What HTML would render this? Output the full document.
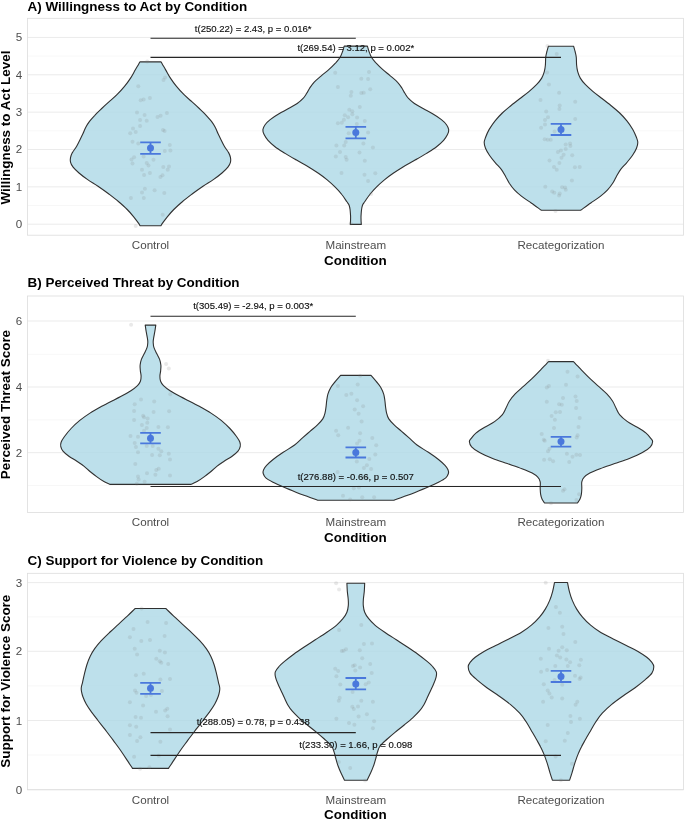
<!DOCTYPE html>
<html><head><meta charset="utf-8"><title>Violin plots by condition</title>
<style>html,body{margin:0;padding:0;background:#fff;overflow:hidden}svg{display:block;will-change:transform}text{font-family:"Liberation Sans",sans-serif}</style></head>
<body>
<svg width="685" height="820" viewBox="0 0 685 820">
<rect width="685" height="820" fill="#fff"/>
<g>
<line x1="27.5" x2="683.4" y1="56.10" y2="56.10" stroke="#f1f1f1" stroke-width="0.6"/>
<line x1="27.5" x2="683.4" y1="93.50" y2="93.50" stroke="#f1f1f1" stroke-width="0.6"/>
<line x1="27.5" x2="683.4" y1="130.80" y2="130.80" stroke="#f1f1f1" stroke-width="0.6"/>
<line x1="27.5" x2="683.4" y1="168.20" y2="168.20" stroke="#f1f1f1" stroke-width="0.6"/>
<line x1="27.5" x2="683.4" y1="205.50" y2="205.50" stroke="#f1f1f1" stroke-width="0.6"/>
<line x1="27.5" x2="683.4" y1="37.45" y2="37.45" stroke="#e9e9e9" stroke-width="0.9"/>
<line x1="27.5" x2="683.4" y1="74.80" y2="74.80" stroke="#e9e9e9" stroke-width="0.9"/>
<line x1="27.5" x2="683.4" y1="112.15" y2="112.15" stroke="#e9e9e9" stroke-width="0.9"/>
<line x1="27.5" x2="683.4" y1="149.50" y2="149.50" stroke="#e9e9e9" stroke-width="0.9"/>
<line x1="27.5" x2="683.4" y1="186.85" y2="186.85" stroke="#e9e9e9" stroke-width="0.9"/>
<line x1="27.5" x2="683.4" y1="224.20" y2="224.20" stroke="#e9e9e9" stroke-width="0.9"/>
<path d="M139.9 61.9C139.2 63.2 137.1 66.8 135.5 69.6C133.9 72.3 132.2 75.6 130.4 78.4C128.6 81.2 126.7 83.7 124.5 86.4C122.3 89.1 119.8 91.9 117.2 94.4C114.7 97.0 111.9 99.3 109.2 101.7C106.5 104.1 103.6 106.7 101.2 109.0C98.8 111.3 96.5 113.5 94.6 115.6C92.6 117.7 91.0 119.5 89.5 121.4C88.0 123.4 86.9 125.2 85.8 127.3C84.7 129.4 83.9 131.7 82.9 133.8C81.9 135.9 81.0 137.7 80.0 139.7C79.0 141.7 78.1 143.8 76.8 146.0C75.5 148.2 73.5 150.7 72.4 152.6C71.4 154.5 70.8 156.1 70.5 157.7C70.2 159.3 70.1 160.5 70.5 162.1C70.9 163.7 71.7 165.4 73.1 167.2C74.5 169.0 76.6 170.9 79.0 173.0C81.4 175.1 84.5 177.4 87.7 179.6C90.9 181.8 94.6 183.9 98.0 186.2C101.4 188.5 104.8 190.9 108.2 193.5C111.6 196.1 115.2 198.8 118.4 201.5C121.6 204.2 124.7 206.9 127.2 209.5C129.8 212.1 131.9 214.6 133.7 216.8C135.5 219.0 137.0 221.2 138.1 222.7C139.2 224.2 139.8 225.3 140.1 225.8L160.9 225.8C161.2 225.3 161.8 224.2 162.9 222.7C164.0 221.2 165.5 219.0 167.3 216.8C169.1 214.6 171.2 212.1 173.8 209.5C176.4 206.9 179.4 204.2 182.6 201.5C185.8 198.8 189.4 196.1 192.8 193.5C196.2 190.9 199.6 188.5 203.0 186.2C206.4 183.9 210.1 181.8 213.3 179.6C216.5 177.4 219.6 175.1 222.0 173.0C224.4 170.9 226.5 169.0 227.9 167.2C229.3 165.4 230.1 163.7 230.5 162.1C230.9 160.5 230.8 159.3 230.5 157.7C230.2 156.1 229.7 154.5 228.6 152.6C227.5 150.7 225.5 148.2 224.2 146.0C222.9 143.8 222.0 141.7 221.0 139.7C220.0 137.7 219.1 135.9 218.1 133.8C217.1 131.7 216.3 129.4 215.2 127.3C214.1 125.2 213.0 123.4 211.5 121.4C210.0 119.5 208.3 117.7 206.4 115.6C204.5 113.5 202.2 111.3 199.8 109.0C197.4 106.7 194.5 104.1 191.8 101.7C189.1 99.3 186.4 97.0 183.8 94.4C181.2 91.9 178.7 89.1 176.5 86.4C174.3 83.7 172.4 81.2 170.6 78.4C168.8 75.6 167.1 72.3 165.5 69.6C163.9 66.8 161.8 63.2 161.1 61.9Z" fill="#add8e6" fill-opacity="0.8" stroke="#303030" stroke-width="1.1" stroke-linejoin="round"/>
<path d="M344.2 46.1C343.9 47.0 343.2 49.8 342.5 51.7C341.8 53.6 341.1 55.7 340.0 57.5C338.9 59.3 337.7 60.6 335.9 62.6C334.1 64.5 331.7 67.0 329.3 69.2C326.9 71.4 323.9 73.6 321.3 75.8C318.8 78.0 315.9 80.2 314.0 82.3C312.1 84.4 310.8 86.4 309.6 88.2C308.4 90.0 307.8 91.6 306.7 93.3C305.6 95.0 304.7 96.7 303.1 98.4C301.5 100.1 299.6 101.8 297.2 103.5C294.8 105.2 291.5 106.9 288.5 108.6C285.5 110.3 282.1 111.9 279.0 113.7C275.9 115.5 272.5 117.8 270.2 119.6C267.9 121.4 266.3 123.0 265.1 124.7C263.9 126.4 263.1 127.8 262.9 129.5C262.7 131.2 263.2 132.8 264.1 134.6C265.0 136.4 266.1 138.3 268.0 140.4C269.9 142.5 272.4 144.8 275.3 147.0C278.2 149.2 282.0 151.4 285.5 153.6C289.0 155.8 292.7 157.9 296.5 160.1C300.3 162.3 304.5 164.5 308.2 166.7C311.9 168.9 315.2 171.1 318.4 173.3C321.6 175.5 324.4 177.6 327.2 179.9C330.0 182.2 332.8 184.8 335.2 187.2C337.6 189.6 339.9 192.1 341.8 194.5C343.8 196.9 345.7 200.1 346.9 201.8C348.1 203.5 348.3 203.6 348.8 204.6C349.3 205.6 349.6 206.8 349.8 208.0C350.1 209.2 350.2 210.4 350.3 212.0C350.4 213.6 350.6 215.3 350.6 217.4C350.6 219.5 350.4 223.2 350.3 224.4L361.3 224.4C361.2 223.2 361.0 219.5 361.0 217.4C361.0 215.3 361.2 213.6 361.3 212.0C361.4 210.4 361.6 209.2 361.8 208.0C362.1 206.8 362.3 205.6 362.8 204.6C363.3 203.6 363.5 203.5 364.7 201.8C365.9 200.1 367.9 196.9 369.8 194.5C371.8 192.1 374.0 189.6 376.4 187.2C378.8 184.8 381.6 182.2 384.4 179.9C387.2 177.6 390.0 175.5 393.2 173.3C396.4 171.1 399.8 168.9 403.4 166.7C407.1 164.5 411.3 162.3 415.1 160.1C418.9 157.9 422.6 155.8 426.1 153.6C429.6 151.4 433.4 149.2 436.3 147.0C439.2 144.8 441.7 142.5 443.6 140.4C445.5 138.3 446.6 136.4 447.5 134.6C448.4 132.8 448.9 131.2 448.7 129.5C448.5 127.8 447.7 126.4 446.5 124.7C445.3 123.0 443.7 121.4 441.4 119.6C439.1 117.8 435.7 115.5 432.6 113.7C429.6 111.9 426.1 110.3 423.1 108.6C420.1 106.9 416.8 105.2 414.4 103.5C412.0 101.8 410.1 100.1 408.5 98.4C406.9 96.7 406.0 95.0 404.9 93.3C403.8 91.6 403.2 90.0 402.0 88.2C400.8 86.4 399.6 84.4 397.6 82.3C395.7 80.2 392.9 78.0 390.3 75.8C387.8 73.6 384.7 71.4 382.3 69.2C379.9 67.0 377.5 64.5 375.7 62.6C373.9 60.6 372.7 59.3 371.6 57.5C370.5 55.7 369.8 53.6 369.1 51.7C368.4 49.8 367.7 47.0 367.4 46.1Z" fill="#add8e6" fill-opacity="0.8" stroke="#303030" stroke-width="1.1" stroke-linejoin="round"/>
<path d="M548.4 46.2C548.1 47.2 547.2 50.1 546.8 52.0C546.3 53.9 545.9 55.3 545.7 57.5C545.5 59.7 545.6 62.6 545.4 65.0C545.2 67.3 544.9 69.4 544.3 71.6C543.7 73.8 543.0 75.9 541.7 78.1C540.4 80.3 538.6 82.5 536.5 84.7C534.4 86.9 532.0 89.0 529.2 91.3C526.5 93.6 523.1 96.1 520.0 98.5C516.9 100.9 513.8 103.3 510.8 105.7C507.9 108.1 504.9 110.5 502.3 113.0C499.7 115.5 497.3 118.1 495.1 120.8C492.9 123.5 490.8 126.7 489.2 129.4C487.6 132.2 486.4 135.1 485.6 137.3C484.8 139.5 484.2 140.7 484.2 142.5C484.2 144.3 484.6 146.0 485.5 148.2C486.4 150.4 488.0 153.1 489.6 155.5C491.2 157.9 493.4 160.5 495.4 162.8C497.3 165.1 499.6 167.1 501.3 169.4C503.0 171.7 504.4 174.4 505.7 176.7C507.0 179.0 507.9 181.1 509.3 183.3C510.8 185.5 512.3 187.7 514.4 189.9C516.5 192.1 518.9 194.2 521.7 196.4C524.5 198.6 527.9 200.7 531.2 203.0C534.5 205.3 539.7 209.1 541.4 210.3L580.6 210.3C582.3 209.1 587.5 205.3 590.8 203.0C594.1 200.7 597.5 198.6 600.3 196.4C603.1 194.2 605.5 192.1 607.6 189.9C609.7 187.7 611.2 185.5 612.7 183.3C614.2 181.1 615.0 179.0 616.3 176.7C617.6 174.4 619.0 171.7 620.7 169.4C622.4 167.1 624.7 165.1 626.6 162.8C628.5 160.5 630.8 157.9 632.4 155.5C634.0 153.1 635.6 150.4 636.5 148.2C637.4 146.0 637.8 144.3 637.8 142.5C637.8 140.7 637.2 139.5 636.4 137.3C635.6 135.1 634.4 132.2 632.8 129.4C631.2 126.7 629.1 123.5 626.9 120.8C624.7 118.1 622.3 115.5 619.7 113.0C617.1 110.5 614.2 108.1 611.2 105.7C608.2 103.3 605.1 100.9 602.0 98.5C598.9 96.1 595.5 93.6 592.8 91.3C590.0 89.0 587.6 86.9 585.5 84.7C583.4 82.5 581.6 80.3 580.3 78.1C579.0 75.9 578.3 73.8 577.7 71.6C577.1 69.4 576.8 67.3 576.6 65.0C576.4 62.6 576.5 59.7 576.3 57.5C576.1 55.3 575.7 53.9 575.2 52.0C574.8 50.1 573.9 47.2 573.6 46.2Z" fill="#add8e6" fill-opacity="0.8" stroke="#303030" stroke-width="1.1" stroke-linejoin="round"/>
<circle cx="147.2" cy="61.5" r="2" fill="#7f7f7f" fill-opacity="0.17"/>
<circle cx="165.1" cy="77.6" r="2" fill="#7f7f7f" fill-opacity="0.17"/>
<circle cx="163.5" cy="79.9" r="2" fill="#7f7f7f" fill-opacity="0.17"/>
<circle cx="138.3" cy="86.2" r="2" fill="#7f7f7f" fill-opacity="0.17"/>
<circle cx="149.9" cy="98.1" r="2" fill="#7f7f7f" fill-opacity="0.17"/>
<circle cx="143.6" cy="99.6" r="2" fill="#7f7f7f" fill-opacity="0.17"/>
<circle cx="140.7" cy="100.2" r="2" fill="#7f7f7f" fill-opacity="0.17"/>
<circle cx="137.0" cy="112.5" r="2" fill="#7f7f7f" fill-opacity="0.17"/>
<circle cx="166.9" cy="113.0" r="2" fill="#7f7f7f" fill-opacity="0.17"/>
<circle cx="144.6" cy="114.9" r="2" fill="#7f7f7f" fill-opacity="0.17"/>
<circle cx="160.6" cy="115.7" r="2" fill="#7f7f7f" fill-opacity="0.17"/>
<circle cx="157.5" cy="117.0" r="2" fill="#7f7f7f" fill-opacity="0.17"/>
<circle cx="140.1" cy="120.1" r="2" fill="#7f7f7f" fill-opacity="0.17"/>
<circle cx="146.7" cy="120.7" r="2" fill="#7f7f7f" fill-opacity="0.17"/>
<circle cx="140.1" cy="125.9" r="2" fill="#7f7f7f" fill-opacity="0.17"/>
<circle cx="133.0" cy="128.5" r="2" fill="#7f7f7f" fill-opacity="0.17"/>
<circle cx="163.0" cy="129.9" r="2" fill="#7f7f7f" fill-opacity="0.17"/>
<circle cx="164.6" cy="130.9" r="2" fill="#7f7f7f" fill-opacity="0.17"/>
<circle cx="135.7" cy="132.0" r="2" fill="#7f7f7f" fill-opacity="0.17"/>
<circle cx="130.2" cy="133.3" r="2" fill="#7f7f7f" fill-opacity="0.17"/>
<circle cx="132.5" cy="141.7" r="2" fill="#7f7f7f" fill-opacity="0.17"/>
<circle cx="138.3" cy="143.5" r="2" fill="#7f7f7f" fill-opacity="0.17"/>
<circle cx="169.8" cy="145.1" r="2" fill="#7f7f7f" fill-opacity="0.17"/>
<circle cx="170.4" cy="150.6" r="2" fill="#7f7f7f" fill-opacity="0.17"/>
<circle cx="164.8" cy="151.1" r="2" fill="#7f7f7f" fill-opacity="0.17"/>
<circle cx="134.1" cy="157.2" r="2" fill="#7f7f7f" fill-opacity="0.17"/>
<circle cx="143.6" cy="156.4" r="2" fill="#7f7f7f" fill-opacity="0.17"/>
<circle cx="131.5" cy="159.5" r="2" fill="#7f7f7f" fill-opacity="0.17"/>
<circle cx="153.5" cy="159.8" r="2" fill="#7f7f7f" fill-opacity="0.17"/>
<circle cx="132.5" cy="163.5" r="2" fill="#7f7f7f" fill-opacity="0.17"/>
<circle cx="146.7" cy="163.0" r="2" fill="#7f7f7f" fill-opacity="0.17"/>
<circle cx="148.5" cy="165.6" r="2" fill="#7f7f7f" fill-opacity="0.17"/>
<circle cx="169.0" cy="166.6" r="2" fill="#7f7f7f" fill-opacity="0.17"/>
<circle cx="163.3" cy="166.9" r="2" fill="#7f7f7f" fill-opacity="0.17"/>
<circle cx="142.0" cy="169.8" r="2" fill="#7f7f7f" fill-opacity="0.17"/>
<circle cx="167.7" cy="169.8" r="2" fill="#7f7f7f" fill-opacity="0.17"/>
<circle cx="149.9" cy="172.9" r="2" fill="#7f7f7f" fill-opacity="0.17"/>
<circle cx="144.1" cy="175.0" r="2" fill="#7f7f7f" fill-opacity="0.17"/>
<circle cx="162.5" cy="175.3" r="2" fill="#7f7f7f" fill-opacity="0.17"/>
<circle cx="160.4" cy="176.9" r="2" fill="#7f7f7f" fill-opacity="0.17"/>
<circle cx="144.9" cy="188.7" r="2" fill="#7f7f7f" fill-opacity="0.17"/>
<circle cx="154.6" cy="190.3" r="2" fill="#7f7f7f" fill-opacity="0.17"/>
<circle cx="142.0" cy="192.4" r="2" fill="#7f7f7f" fill-opacity="0.17"/>
<circle cx="164.3" cy="192.9" r="2" fill="#7f7f7f" fill-opacity="0.17"/>
<circle cx="130.9" cy="197.9" r="2" fill="#7f7f7f" fill-opacity="0.17"/>
<circle cx="143.8" cy="197.9" r="2" fill="#7f7f7f" fill-opacity="0.17"/>
<circle cx="162.7" cy="214.7" r="2" fill="#7f7f7f" fill-opacity="0.17"/>
<circle cx="135.7" cy="226.0" r="2" fill="#7f7f7f" fill-opacity="0.17"/>
<circle cx="335.2" cy="72.7" r="2" fill="#7f7f7f" fill-opacity="0.17"/>
<circle cx="369.0" cy="72.1" r="2" fill="#7f7f7f" fill-opacity="0.17"/>
<circle cx="361.3" cy="78.7" r="2" fill="#7f7f7f" fill-opacity="0.17"/>
<circle cx="368.1" cy="79.0" r="2" fill="#7f7f7f" fill-opacity="0.17"/>
<circle cx="337.9" cy="87.1" r="2" fill="#7f7f7f" fill-opacity="0.17"/>
<circle cx="370.2" cy="89.2" r="2" fill="#7f7f7f" fill-opacity="0.17"/>
<circle cx="351.4" cy="91.9" r="2" fill="#7f7f7f" fill-opacity="0.17"/>
<circle cx="361.3" cy="93.1" r="2" fill="#7f7f7f" fill-opacity="0.17"/>
<circle cx="363.7" cy="92.8" r="2" fill="#7f7f7f" fill-opacity="0.17"/>
<circle cx="350.8" cy="95.8" r="2" fill="#7f7f7f" fill-opacity="0.17"/>
<circle cx="359.8" cy="107.1" r="2" fill="#7f7f7f" fill-opacity="0.17"/>
<circle cx="349.3" cy="109.8" r="2" fill="#7f7f7f" fill-opacity="0.17"/>
<circle cx="352.3" cy="111.3" r="2" fill="#7f7f7f" fill-opacity="0.17"/>
<circle cx="344.8" cy="115.2" r="2" fill="#7f7f7f" fill-opacity="0.17"/>
<circle cx="348.1" cy="117.3" r="2" fill="#7f7f7f" fill-opacity="0.17"/>
<circle cx="352.3" cy="114.3" r="2" fill="#7f7f7f" fill-opacity="0.17"/>
<circle cx="357.1" cy="117.6" r="2" fill="#7f7f7f" fill-opacity="0.17"/>
<circle cx="343.9" cy="119.7" r="2" fill="#7f7f7f" fill-opacity="0.17"/>
<circle cx="364.8" cy="120.9" r="2" fill="#7f7f7f" fill-opacity="0.17"/>
<circle cx="337.9" cy="123.3" r="2" fill="#7f7f7f" fill-opacity="0.17"/>
<circle cx="341.8" cy="122.7" r="2" fill="#7f7f7f" fill-opacity="0.17"/>
<circle cx="356.8" cy="123.9" r="2" fill="#7f7f7f" fill-opacity="0.17"/>
<circle cx="368.1" cy="132.6" r="2" fill="#7f7f7f" fill-opacity="0.17"/>
<circle cx="348.7" cy="133.2" r="2" fill="#7f7f7f" fill-opacity="0.17"/>
<circle cx="336.4" cy="145.4" r="2" fill="#7f7f7f" fill-opacity="0.17"/>
<circle cx="344.2" cy="145.4" r="2" fill="#7f7f7f" fill-opacity="0.17"/>
<circle cx="345.7" cy="141.9" r="2" fill="#7f7f7f" fill-opacity="0.17"/>
<circle cx="363.4" cy="143.4" r="2" fill="#7f7f7f" fill-opacity="0.17"/>
<circle cx="372.9" cy="147.5" r="2" fill="#7f7f7f" fill-opacity="0.17"/>
<circle cx="340.0" cy="152.0" r="2" fill="#7f7f7f" fill-opacity="0.17"/>
<circle cx="359.5" cy="152.6" r="2" fill="#7f7f7f" fill-opacity="0.17"/>
<circle cx="335.8" cy="156.5" r="2" fill="#7f7f7f" fill-opacity="0.17"/>
<circle cx="345.7" cy="157.1" r="2" fill="#7f7f7f" fill-opacity="0.17"/>
<circle cx="346.6" cy="159.8" r="2" fill="#7f7f7f" fill-opacity="0.17"/>
<circle cx="364.8" cy="160.7" r="2" fill="#7f7f7f" fill-opacity="0.17"/>
<circle cx="341.5" cy="173.0" r="2" fill="#7f7f7f" fill-opacity="0.17"/>
<circle cx="364.5" cy="174.8" r="2" fill="#7f7f7f" fill-opacity="0.17"/>
<circle cx="375.3" cy="173.3" r="2" fill="#7f7f7f" fill-opacity="0.17"/>
<circle cx="368.1" cy="181.1" r="2" fill="#7f7f7f" fill-opacity="0.17"/>
<circle cx="371.1" cy="193.9" r="2" fill="#7f7f7f" fill-opacity="0.17"/>
<circle cx="350.8" cy="223.6" r="2" fill="#7f7f7f" fill-opacity="0.17"/>
<circle cx="547.4" cy="46.1" r="2" fill="#7f7f7f" fill-opacity="0.17"/>
<circle cx="556.7" cy="53.9" r="2" fill="#7f7f7f" fill-opacity="0.17"/>
<circle cx="547.1" cy="72.4" r="2" fill="#7f7f7f" fill-opacity="0.17"/>
<circle cx="548.9" cy="84.4" r="2" fill="#7f7f7f" fill-opacity="0.17"/>
<circle cx="559.1" cy="92.8" r="2" fill="#7f7f7f" fill-opacity="0.17"/>
<circle cx="540.5" cy="100.0" r="2" fill="#7f7f7f" fill-opacity="0.17"/>
<circle cx="575.2" cy="101.7" r="2" fill="#7f7f7f" fill-opacity="0.17"/>
<circle cx="559.7" cy="105.6" r="2" fill="#7f7f7f" fill-opacity="0.17"/>
<circle cx="559.4" cy="108.9" r="2" fill="#7f7f7f" fill-opacity="0.17"/>
<circle cx="546.2" cy="111.6" r="2" fill="#7f7f7f" fill-opacity="0.17"/>
<circle cx="548.0" cy="117.3" r="2" fill="#7f7f7f" fill-opacity="0.17"/>
<circle cx="575.2" cy="119.1" r="2" fill="#7f7f7f" fill-opacity="0.17"/>
<circle cx="545.0" cy="120.0" r="2" fill="#7f7f7f" fill-opacity="0.17"/>
<circle cx="541.1" cy="127.8" r="2" fill="#7f7f7f" fill-opacity="0.17"/>
<circle cx="545.0" cy="124.5" r="2" fill="#7f7f7f" fill-opacity="0.17"/>
<circle cx="554.6" cy="131.4" r="2" fill="#7f7f7f" fill-opacity="0.17"/>
<circle cx="544.7" cy="139.2" r="2" fill="#7f7f7f" fill-opacity="0.17"/>
<circle cx="547.7" cy="139.8" r="2" fill="#7f7f7f" fill-opacity="0.17"/>
<circle cx="550.7" cy="139.8" r="2" fill="#7f7f7f" fill-opacity="0.17"/>
<circle cx="565.7" cy="144.5" r="2" fill="#7f7f7f" fill-opacity="0.17"/>
<circle cx="570.1" cy="143.4" r="2" fill="#7f7f7f" fill-opacity="0.17"/>
<circle cx="570.4" cy="146.0" r="2" fill="#7f7f7f" fill-opacity="0.17"/>
<circle cx="565.7" cy="149.0" r="2" fill="#7f7f7f" fill-opacity="0.17"/>
<circle cx="560.9" cy="150.5" r="2" fill="#7f7f7f" fill-opacity="0.17"/>
<circle cx="557.9" cy="152.0" r="2" fill="#7f7f7f" fill-opacity="0.17"/>
<circle cx="563.6" cy="154.7" r="2" fill="#7f7f7f" fill-opacity="0.17"/>
<circle cx="572.2" cy="155.3" r="2" fill="#7f7f7f" fill-opacity="0.17"/>
<circle cx="561.5" cy="157.7" r="2" fill="#7f7f7f" fill-opacity="0.17"/>
<circle cx="549.5" cy="160.4" r="2" fill="#7f7f7f" fill-opacity="0.17"/>
<circle cx="559.4" cy="163.1" r="2" fill="#7f7f7f" fill-opacity="0.17"/>
<circle cx="554.0" cy="167.0" r="2" fill="#7f7f7f" fill-opacity="0.17"/>
<circle cx="556.7" cy="169.7" r="2" fill="#7f7f7f" fill-opacity="0.17"/>
<circle cx="574.9" cy="167.3" r="2" fill="#7f7f7f" fill-opacity="0.17"/>
<circle cx="579.7" cy="167.0" r="2" fill="#7f7f7f" fill-opacity="0.17"/>
<circle cx="571.9" cy="180.5" r="2" fill="#7f7f7f" fill-opacity="0.17"/>
<circle cx="545.3" cy="186.8" r="2" fill="#7f7f7f" fill-opacity="0.17"/>
<circle cx="562.1" cy="187.3" r="2" fill="#7f7f7f" fill-opacity="0.17"/>
<circle cx="565.1" cy="187.6" r="2" fill="#7f7f7f" fill-opacity="0.17"/>
<circle cx="565.7" cy="189.7" r="2" fill="#7f7f7f" fill-opacity="0.17"/>
<circle cx="552.2" cy="191.5" r="2" fill="#7f7f7f" fill-opacity="0.17"/>
<circle cx="554.3" cy="192.7" r="2" fill="#7f7f7f" fill-opacity="0.17"/>
<circle cx="559.7" cy="193.6" r="2" fill="#7f7f7f" fill-opacity="0.17"/>
<circle cx="559.1" cy="195.4" r="2" fill="#7f7f7f" fill-opacity="0.17"/>
<circle cx="555.5" cy="211.0" r="2" fill="#7f7f7f" fill-opacity="0.17"/>
<path d="M140.2 142.3H160.8M140.2 153.8H160.8M150.5 142.3V153.8" stroke="#4a78dc" stroke-width="1.8" fill="none"/>
<circle cx="150.5" cy="148.0" r="3.5" fill="#4a78dc"/>
<path d="M345.5 126.9H366.1M345.5 138.3H366.1M355.8 126.9V138.3" stroke="#4a78dc" stroke-width="1.8" fill="none"/>
<circle cx="355.8" cy="132.6" r="3.5" fill="#4a78dc"/>
<path d="M550.7 123.9H571.3M550.7 135.0H571.3M561.0 123.9V135.0" stroke="#4a78dc" stroke-width="1.8" fill="none"/>
<circle cx="561.0" cy="129.6" r="3.5" fill="#4a78dc"/>
<rect x="27.5" y="18.3" width="655.9" height="216.9" fill="none" stroke="#dcdcdc" stroke-width="0.8"/>
<line x1="150.5" x2="355.8" y1="38.2" y2="38.2" stroke="#262626" stroke-width="1.1"/>
<text x="253.2" y="31.9" font-size="9.55" text-anchor="middle" fill="#111" stroke="#111" stroke-width="0.15">t(250.22) = 2.43, p = 0.016*</text>
<line x1="150.5" x2="561.0" y1="57.4" y2="57.4" stroke="#262626" stroke-width="1.1"/>
<text x="355.8" y="51.3" font-size="9.55" text-anchor="middle" fill="#111" stroke="#111" stroke-width="0.15">t(269.54) = 3.12, p = 0.002*</text>
<text x="27.5" y="10.8" font-size="13.45" font-weight="bold" fill="#000">A) Willingness to Act by Condition</text>
<text x="22.2" y="41.4" font-size="11.6" text-anchor="end" fill="#4d4d4d">5</text>
<text x="22.2" y="78.8" font-size="11.6" text-anchor="end" fill="#4d4d4d">4</text>
<text x="22.2" y="116.1" font-size="11.6" text-anchor="end" fill="#4d4d4d">3</text>
<text x="22.2" y="153.4" font-size="11.6" text-anchor="end" fill="#4d4d4d">2</text>
<text x="22.2" y="190.8" font-size="11.6" text-anchor="end" fill="#4d4d4d">1</text>
<text x="22.2" y="228.1" font-size="11.6" text-anchor="end" fill="#4d4d4d">0</text>
<text x="150.5" y="248.9" font-size="11.6" text-anchor="middle" fill="#4d4d4d">Control</text>
<text x="355.8" y="248.9" font-size="11.6" text-anchor="middle" fill="#4d4d4d">Mainstream</text>
<text x="561.0" y="248.9" font-size="11.6" text-anchor="middle" fill="#4d4d4d">Recategorization</text>
<text x="355.4" y="264.9" font-size="13.45" font-weight="bold" text-anchor="middle" fill="#000">Condition</text>
<text transform="translate(10.3 127.5) rotate(-90)" font-size="13.45" font-weight="bold" text-anchor="middle" fill="#000">Willingness to Act Level</text>
</g>
<g>
<line x1="27.5" x2="683.4" y1="354.30" y2="354.30" stroke="#f1f1f1" stroke-width="0.6"/>
<line x1="27.5" x2="683.4" y1="419.90" y2="419.90" stroke="#f1f1f1" stroke-width="0.6"/>
<line x1="27.5" x2="683.4" y1="485.50" y2="485.50" stroke="#f1f1f1" stroke-width="0.6"/>
<line x1="27.5" x2="683.4" y1="321.00" y2="321.00" stroke="#e9e9e9" stroke-width="0.9"/>
<line x1="27.5" x2="683.4" y1="387.00" y2="387.00" stroke="#e9e9e9" stroke-width="0.9"/>
<line x1="27.5" x2="683.4" y1="452.70" y2="452.70" stroke="#e9e9e9" stroke-width="0.9"/>
<path d="M145.2 325.1C145.4 326.2 145.8 329.5 146.2 331.7C146.6 333.9 147.1 336.4 147.4 338.2C147.7 340.0 147.9 341.0 147.8 342.6C147.7 344.2 147.6 345.9 147.0 347.7C146.4 349.5 145.2 351.7 144.3 353.6C143.4 355.6 142.1 357.4 141.4 359.4C140.7 361.3 140.3 363.4 140.1 365.3C139.9 367.2 140.2 369.3 140.4 371.1C140.6 372.9 141.1 374.5 141.1 376.2C141.1 377.9 141.0 379.7 140.4 381.3C139.8 382.9 139.1 384.1 137.5 385.7C135.9 387.3 133.7 389.0 130.9 390.8C128.1 392.6 124.4 394.7 120.7 396.6C117.0 398.6 112.2 400.8 109.0 402.5C105.8 404.2 104.4 404.8 101.2 406.6C98.0 408.4 93.6 410.8 90.0 413.1C86.4 415.4 83.0 417.8 79.8 420.4C76.6 423.0 73.6 425.8 71.1 428.5C68.5 431.2 66.2 434.2 64.5 436.5C62.8 438.8 61.7 440.6 61.1 442.3C60.5 444.0 60.5 445.2 60.8 446.7C61.1 448.2 61.6 449.5 63.0 451.1C64.3 452.7 66.6 454.5 68.9 456.2C71.2 457.9 74.4 459.6 76.9 461.3C79.5 463.0 82.0 464.7 84.2 466.4C86.4 468.1 87.9 469.8 90.0 471.5C92.1 473.2 94.3 474.9 96.6 476.6C98.9 478.3 101.6 480.2 103.9 481.5C106.2 482.8 109.2 483.9 110.2 484.4L190.8 484.4C191.9 483.9 194.8 482.8 197.1 481.5C199.4 480.2 202.1 478.3 204.4 476.6C206.7 474.9 208.9 473.2 211.0 471.5C213.1 469.8 214.6 468.1 216.8 466.4C219.0 464.7 221.6 463.0 224.1 461.3C226.6 459.6 229.8 457.9 232.1 456.2C234.4 454.5 236.7 452.7 238.0 451.1C239.3 449.5 239.9 448.2 240.2 446.7C240.5 445.2 240.5 444.0 239.9 442.3C239.3 440.6 238.2 438.8 236.5 436.5C234.8 434.2 232.5 431.2 229.9 428.5C227.3 425.8 224.3 423.0 221.2 420.4C218.0 417.8 214.6 415.4 211.0 413.1C207.4 410.8 203.0 408.4 199.8 406.6C196.6 404.8 195.2 404.2 192.0 402.5C188.8 400.8 184.0 398.6 180.3 396.6C176.7 394.7 172.9 392.6 170.1 390.8C167.3 389.0 165.1 387.3 163.5 385.7C161.9 384.1 161.2 382.9 160.6 381.3C160.0 379.7 159.9 377.9 159.9 376.2C159.9 374.5 160.4 372.9 160.6 371.1C160.8 369.3 161.1 367.2 160.9 365.3C160.7 363.4 160.3 361.3 159.6 359.4C158.9 357.4 157.6 355.6 156.7 353.6C155.8 351.7 154.6 349.5 154.0 347.7C153.4 345.9 153.3 344.2 153.2 342.6C153.1 341.0 153.3 340.0 153.6 338.2C153.9 336.4 154.4 333.9 154.8 331.7C155.2 329.5 155.6 326.2 155.8 325.1Z" fill="#add8e6" fill-opacity="0.8" stroke="#303030" stroke-width="1.1" stroke-linejoin="round"/>
<path d="M340.6 375.4C339.7 376.4 336.8 379.7 335.2 381.7C333.6 383.7 332.0 385.4 330.8 387.5C329.6 389.6 328.6 391.9 327.9 394.1C327.2 396.3 327.0 398.5 326.7 400.7C326.4 402.9 326.3 405.1 326.0 407.2C325.7 409.3 325.5 411.2 325.0 413.1C324.5 415.1 324.0 417.0 322.8 418.9C321.6 420.8 319.8 422.6 317.7 424.7C315.6 426.8 312.5 429.1 310.0 431.3C307.5 433.5 305.1 435.6 302.5 437.9C299.9 440.2 297.8 442.6 294.6 445.0C291.4 447.4 286.8 449.9 283.2 452.3C279.6 454.7 275.9 457.3 273.1 459.5C270.3 461.7 268.2 463.7 266.6 465.4C265.0 467.1 264.2 468.4 263.6 469.8C263.0 471.2 262.8 472.2 263.2 473.5C263.6 474.8 264.2 476.4 265.8 477.8C267.4 479.2 270.1 480.6 273.1 482.2C276.2 483.8 280.2 485.6 284.1 487.3C288.0 489.0 292.5 490.8 296.5 492.4C300.5 494.0 304.7 495.5 308.2 496.8C311.7 498.1 316.1 499.6 317.7 500.2L393.9 500.2C395.5 499.6 399.9 498.1 403.4 496.8C406.9 495.5 411.1 494.0 415.1 492.4C419.1 490.8 423.6 489.0 427.5 487.3C431.4 485.6 435.4 483.8 438.5 482.2C441.6 480.6 444.2 479.2 445.8 477.8C447.4 476.4 448.0 474.8 448.4 473.5C448.8 472.2 448.6 471.2 448.0 469.8C447.4 468.4 446.6 467.1 445.0 465.4C443.4 463.7 441.3 461.7 438.5 459.5C435.7 457.3 432.0 454.7 428.4 452.3C424.8 449.9 420.2 447.4 417.0 445.0C413.8 442.6 411.7 440.2 409.1 437.9C406.5 435.6 404.1 433.5 401.6 431.3C399.1 429.1 396.0 426.8 393.9 424.7C391.8 422.6 390.0 420.8 388.8 418.9C387.6 417.0 387.1 415.1 386.6 413.1C386.1 411.2 385.9 409.3 385.6 407.2C385.3 405.1 385.2 402.9 384.9 400.7C384.6 398.5 384.4 396.3 383.7 394.1C383.0 391.9 382.0 389.6 380.8 387.5C379.6 385.4 378.0 383.7 376.4 381.7C374.8 379.7 371.9 376.4 371.0 375.4Z" fill="#add8e6" fill-opacity="0.8" stroke="#303030" stroke-width="1.1" stroke-linejoin="round"/>
<path d="M548.6 361.6C547.3 362.9 543.6 366.8 540.9 369.6C538.2 372.4 535.1 375.6 532.2 378.4C529.3 381.2 526.2 383.8 523.4 386.4C520.6 388.9 517.7 391.3 515.4 393.7C513.1 396.1 511.1 398.6 509.5 401.0C507.9 403.4 507.1 406.0 505.9 408.3C504.7 410.6 504.0 412.7 502.2 414.9C500.4 417.1 497.8 419.3 494.9 421.4C492.0 423.5 487.9 425.4 484.7 427.3C481.5 429.2 478.2 431.2 475.9 433.1C473.6 435.0 471.9 437.5 470.8 438.9C469.7 440.3 469.3 440.4 469.4 441.7C469.5 443.0 469.9 445.0 471.6 446.8C473.3 448.6 476.1 450.7 479.6 452.6C483.1 454.6 488.1 456.7 492.7 458.5C497.3 460.3 502.4 461.9 507.3 463.6C512.2 465.3 517.8 467.1 521.9 468.7C526.0 470.3 529.5 471.7 532.2 473.1C534.9 474.6 536.7 475.9 538.0 477.4C539.3 478.8 539.8 480.0 540.2 481.8C540.6 483.6 540.1 486.3 540.2 488.4C540.3 490.5 540.3 492.4 540.6 494.2C540.9 496.0 541.4 497.8 542.1 499.3C542.8 500.8 544.2 502.4 544.6 503.0L577.4 503.0C577.8 502.4 579.2 500.8 579.9 499.3C580.6 497.8 581.1 496.0 581.4 494.2C581.7 492.4 581.7 490.5 581.8 488.4C581.9 486.3 581.4 483.6 581.8 481.8C582.2 480.0 582.7 478.8 584.0 477.4C585.3 475.9 587.1 474.6 589.8 473.1C592.5 471.7 596.0 470.3 600.1 468.7C604.2 467.1 609.8 465.3 614.7 463.6C619.6 461.9 624.7 460.3 629.3 458.5C633.9 456.7 638.9 454.6 642.4 452.6C645.9 450.7 648.7 448.6 650.4 446.8C652.1 445.0 652.5 443.0 652.6 441.7C652.7 440.4 652.3 440.3 651.2 438.9C650.1 437.5 648.4 435.0 646.1 433.1C643.8 431.2 640.5 429.2 637.3 427.3C634.1 425.4 630.0 423.5 627.1 421.4C624.2 419.3 621.6 417.1 619.8 414.9C618.0 412.7 617.3 410.6 616.1 408.3C614.9 406.0 614.1 403.4 612.5 401.0C610.9 398.6 608.9 396.1 606.6 393.7C604.3 391.3 601.4 388.9 598.6 386.4C595.8 383.8 592.7 381.2 589.8 378.4C586.9 375.6 583.8 372.4 581.1 369.6C578.4 366.8 574.7 362.9 573.4 361.6Z" fill="#add8e6" fill-opacity="0.8" stroke="#303030" stroke-width="1.1" stroke-linejoin="round"/>
<circle cx="131.1" cy="324.8" r="2" fill="#7f7f7f" fill-opacity="0.17"/>
<circle cx="166.1" cy="364.1" r="2" fill="#7f7f7f" fill-opacity="0.17"/>
<circle cx="168.8" cy="368.5" r="2" fill="#7f7f7f" fill-opacity="0.17"/>
<circle cx="170.3" cy="394.3" r="2" fill="#7f7f7f" fill-opacity="0.17"/>
<circle cx="141.0" cy="399.4" r="2" fill="#7f7f7f" fill-opacity="0.17"/>
<circle cx="154.2" cy="401.5" r="2" fill="#7f7f7f" fill-opacity="0.17"/>
<circle cx="134.7" cy="404.2" r="2" fill="#7f7f7f" fill-opacity="0.17"/>
<circle cx="134.1" cy="411.0" r="2" fill="#7f7f7f" fill-opacity="0.17"/>
<circle cx="153.6" cy="411.9" r="2" fill="#7f7f7f" fill-opacity="0.17"/>
<circle cx="169.1" cy="411.3" r="2" fill="#7f7f7f" fill-opacity="0.17"/>
<circle cx="143.1" cy="415.8" r="2" fill="#7f7f7f" fill-opacity="0.17"/>
<circle cx="144.0" cy="417.3" r="2" fill="#7f7f7f" fill-opacity="0.17"/>
<circle cx="147.6" cy="418.5" r="2" fill="#7f7f7f" fill-opacity="0.17"/>
<circle cx="134.1" cy="420.0" r="2" fill="#7f7f7f" fill-opacity="0.17"/>
<circle cx="147.3" cy="422.7" r="2" fill="#7f7f7f" fill-opacity="0.17"/>
<circle cx="141.9" cy="425.1" r="2" fill="#7f7f7f" fill-opacity="0.17"/>
<circle cx="146.7" cy="428.1" r="2" fill="#7f7f7f" fill-opacity="0.17"/>
<circle cx="158.4" cy="426.9" r="2" fill="#7f7f7f" fill-opacity="0.17"/>
<circle cx="167.9" cy="427.2" r="2" fill="#7f7f7f" fill-opacity="0.17"/>
<circle cx="144.0" cy="430.8" r="2" fill="#7f7f7f" fill-opacity="0.17"/>
<circle cx="130.5" cy="435.9" r="2" fill="#7f7f7f" fill-opacity="0.17"/>
<circle cx="138.0" cy="436.8" r="2" fill="#7f7f7f" fill-opacity="0.17"/>
<circle cx="134.7" cy="443.1" r="2" fill="#7f7f7f" fill-opacity="0.17"/>
<circle cx="135.9" cy="447.0" r="2" fill="#7f7f7f" fill-opacity="0.17"/>
<circle cx="146.7" cy="446.1" r="2" fill="#7f7f7f" fill-opacity="0.17"/>
<circle cx="152.7" cy="446.1" r="2" fill="#7f7f7f" fill-opacity="0.17"/>
<circle cx="158.4" cy="448.8" r="2" fill="#7f7f7f" fill-opacity="0.17"/>
<circle cx="161.3" cy="451.2" r="2" fill="#7f7f7f" fill-opacity="0.17"/>
<circle cx="138.0" cy="452.3" r="2" fill="#7f7f7f" fill-opacity="0.17"/>
<circle cx="152.1" cy="455.0" r="2" fill="#7f7f7f" fill-opacity="0.17"/>
<circle cx="159.8" cy="455.3" r="2" fill="#7f7f7f" fill-opacity="0.17"/>
<circle cx="168.8" cy="453.8" r="2" fill="#7f7f7f" fill-opacity="0.17"/>
<circle cx="170.0" cy="459.5" r="2" fill="#7f7f7f" fill-opacity="0.17"/>
<circle cx="135.3" cy="464.0" r="2" fill="#7f7f7f" fill-opacity="0.17"/>
<circle cx="158.7" cy="468.8" r="2" fill="#7f7f7f" fill-opacity="0.17"/>
<circle cx="156.3" cy="470.0" r="2" fill="#7f7f7f" fill-opacity="0.17"/>
<circle cx="147.0" cy="473.3" r="2" fill="#7f7f7f" fill-opacity="0.17"/>
<circle cx="155.4" cy="474.8" r="2" fill="#7f7f7f" fill-opacity="0.17"/>
<circle cx="170.0" cy="475.4" r="2" fill="#7f7f7f" fill-opacity="0.17"/>
<circle cx="138.0" cy="476.6" r="2" fill="#7f7f7f" fill-opacity="0.17"/>
<circle cx="138.6" cy="479.6" r="2" fill="#7f7f7f" fill-opacity="0.17"/>
<circle cx="144.6" cy="481.7" r="2" fill="#7f7f7f" fill-opacity="0.17"/>
<circle cx="136.8" cy="483.8" r="2" fill="#7f7f7f" fill-opacity="0.17"/>
<circle cx="360.1" cy="375.7" r="2" fill="#7f7f7f" fill-opacity="0.17"/>
<circle cx="337.9" cy="385.9" r="2" fill="#7f7f7f" fill-opacity="0.17"/>
<circle cx="357.7" cy="384.4" r="2" fill="#7f7f7f" fill-opacity="0.17"/>
<circle cx="346.3" cy="394.9" r="2" fill="#7f7f7f" fill-opacity="0.17"/>
<circle cx="351.4" cy="393.7" r="2" fill="#7f7f7f" fill-opacity="0.17"/>
<circle cx="357.1" cy="400.3" r="2" fill="#7f7f7f" fill-opacity="0.17"/>
<circle cx="363.1" cy="406.3" r="2" fill="#7f7f7f" fill-opacity="0.17"/>
<circle cx="354.7" cy="409.5" r="2" fill="#7f7f7f" fill-opacity="0.17"/>
<circle cx="358.6" cy="413.7" r="2" fill="#7f7f7f" fill-opacity="0.17"/>
<circle cx="361.6" cy="421.5" r="2" fill="#7f7f7f" fill-opacity="0.17"/>
<circle cx="348.1" cy="427.8" r="2" fill="#7f7f7f" fill-opacity="0.17"/>
<circle cx="336.1" cy="430.8" r="2" fill="#7f7f7f" fill-opacity="0.17"/>
<circle cx="338.2" cy="435.3" r="2" fill="#7f7f7f" fill-opacity="0.17"/>
<circle cx="360.1" cy="433.2" r="2" fill="#7f7f7f" fill-opacity="0.17"/>
<circle cx="372.3" cy="438.0" r="2" fill="#7f7f7f" fill-opacity="0.17"/>
<circle cx="359.5" cy="440.7" r="2" fill="#7f7f7f" fill-opacity="0.17"/>
<circle cx="357.1" cy="443.4" r="2" fill="#7f7f7f" fill-opacity="0.17"/>
<circle cx="376.2" cy="445.2" r="2" fill="#7f7f7f" fill-opacity="0.17"/>
<circle cx="375.3" cy="454.4" r="2" fill="#7f7f7f" fill-opacity="0.17"/>
<circle cx="369.3" cy="458.9" r="2" fill="#7f7f7f" fill-opacity="0.17"/>
<circle cx="356.8" cy="461.6" r="2" fill="#7f7f7f" fill-opacity="0.17"/>
<circle cx="366.9" cy="465.2" r="2" fill="#7f7f7f" fill-opacity="0.17"/>
<circle cx="363.9" cy="467.9" r="2" fill="#7f7f7f" fill-opacity="0.17"/>
<circle cx="337.6" cy="472.1" r="2" fill="#7f7f7f" fill-opacity="0.17"/>
<circle cx="371.1" cy="469.1" r="2" fill="#7f7f7f" fill-opacity="0.17"/>
<circle cx="366.6" cy="478.1" r="2" fill="#7f7f7f" fill-opacity="0.17"/>
<circle cx="353.8" cy="488.3" r="2" fill="#7f7f7f" fill-opacity="0.17"/>
<circle cx="358.9" cy="487.4" r="2" fill="#7f7f7f" fill-opacity="0.17"/>
<circle cx="343.0" cy="495.7" r="2" fill="#7f7f7f" fill-opacity="0.17"/>
<circle cx="362.2" cy="497.2" r="2" fill="#7f7f7f" fill-opacity="0.17"/>
<circle cx="374.1" cy="497.2" r="2" fill="#7f7f7f" fill-opacity="0.17"/>
<circle cx="350.2" cy="499.6" r="2" fill="#7f7f7f" fill-opacity="0.17"/>
<circle cx="548.0" cy="360.8" r="2" fill="#7f7f7f" fill-opacity="0.17"/>
<circle cx="567.5" cy="371.8" r="2" fill="#7f7f7f" fill-opacity="0.17"/>
<circle cx="577.6" cy="376.6" r="2" fill="#7f7f7f" fill-opacity="0.17"/>
<circle cx="566.0" cy="384.7" r="2" fill="#7f7f7f" fill-opacity="0.17"/>
<circle cx="548.9" cy="385.9" r="2" fill="#7f7f7f" fill-opacity="0.17"/>
<circle cx="546.8" cy="387.4" r="2" fill="#7f7f7f" fill-opacity="0.17"/>
<circle cx="575.5" cy="396.4" r="2" fill="#7f7f7f" fill-opacity="0.17"/>
<circle cx="563.0" cy="397.9" r="2" fill="#7f7f7f" fill-opacity="0.17"/>
<circle cx="576.7" cy="400.9" r="2" fill="#7f7f7f" fill-opacity="0.17"/>
<circle cx="546.8" cy="401.8" r="2" fill="#7f7f7f" fill-opacity="0.17"/>
<circle cx="559.1" cy="404.2" r="2" fill="#7f7f7f" fill-opacity="0.17"/>
<circle cx="561.8" cy="404.8" r="2" fill="#7f7f7f" fill-opacity="0.17"/>
<circle cx="576.1" cy="408.1" r="2" fill="#7f7f7f" fill-opacity="0.17"/>
<circle cx="555.8" cy="412.2" r="2" fill="#7f7f7f" fill-opacity="0.17"/>
<circle cx="560.0" cy="411.9" r="2" fill="#7f7f7f" fill-opacity="0.17"/>
<circle cx="551.6" cy="416.1" r="2" fill="#7f7f7f" fill-opacity="0.17"/>
<circle cx="579.7" cy="417.9" r="2" fill="#7f7f7f" fill-opacity="0.17"/>
<circle cx="554.9" cy="419.7" r="2" fill="#7f7f7f" fill-opacity="0.17"/>
<circle cx="578.5" cy="426.9" r="2" fill="#7f7f7f" fill-opacity="0.17"/>
<circle cx="554.0" cy="428.1" r="2" fill="#7f7f7f" fill-opacity="0.17"/>
<circle cx="541.7" cy="434.1" r="2" fill="#7f7f7f" fill-opacity="0.17"/>
<circle cx="577.6" cy="435.3" r="2" fill="#7f7f7f" fill-opacity="0.17"/>
<circle cx="576.7" cy="437.4" r="2" fill="#7f7f7f" fill-opacity="0.17"/>
<circle cx="543.8" cy="439.8" r="2" fill="#7f7f7f" fill-opacity="0.17"/>
<circle cx="544.7" cy="440.7" r="2" fill="#7f7f7f" fill-opacity="0.17"/>
<circle cx="549.5" cy="448.8" r="2" fill="#7f7f7f" fill-opacity="0.17"/>
<circle cx="548.0" cy="451.2" r="2" fill="#7f7f7f" fill-opacity="0.17"/>
<circle cx="566.9" cy="453.8" r="2" fill="#7f7f7f" fill-opacity="0.17"/>
<circle cx="576.4" cy="454.7" r="2" fill="#7f7f7f" fill-opacity="0.17"/>
<circle cx="580.0" cy="455.0" r="2" fill="#7f7f7f" fill-opacity="0.17"/>
<circle cx="572.5" cy="456.8" r="2" fill="#7f7f7f" fill-opacity="0.17"/>
<circle cx="544.1" cy="459.8" r="2" fill="#7f7f7f" fill-opacity="0.17"/>
<circle cx="549.8" cy="459.2" r="2" fill="#7f7f7f" fill-opacity="0.17"/>
<circle cx="553.1" cy="461.3" r="2" fill="#7f7f7f" fill-opacity="0.17"/>
<circle cx="569.2" cy="461.9" r="2" fill="#7f7f7f" fill-opacity="0.17"/>
<circle cx="564.5" cy="489.2" r="2" fill="#7f7f7f" fill-opacity="0.17"/>
<circle cx="563.0" cy="490.7" r="2" fill="#7f7f7f" fill-opacity="0.17"/>
<circle cx="579.1" cy="494.3" r="2" fill="#7f7f7f" fill-opacity="0.17"/>
<circle cx="576.4" cy="499.9" r="2" fill="#7f7f7f" fill-opacity="0.17"/>
<circle cx="551.0" cy="503.2" r="2" fill="#7f7f7f" fill-opacity="0.17"/>
<path d="M140.2 432.9H160.8M140.2 443.4H160.8M150.5 432.9V443.4" stroke="#4a78dc" stroke-width="1.8" fill="none"/>
<circle cx="150.5" cy="438.2" r="3.5" fill="#4a78dc"/>
<path d="M345.5 447.3H366.1M345.5 457.5H366.1M355.8 447.3V457.5" stroke="#4a78dc" stroke-width="1.8" fill="none"/>
<circle cx="355.8" cy="452.6" r="3.5" fill="#4a78dc"/>
<path d="M550.7 436.8H571.3M550.7 446.7H571.3M561.0 436.8V446.7" stroke="#4a78dc" stroke-width="1.8" fill="none"/>
<circle cx="561.0" cy="441.6" r="3.5" fill="#4a78dc"/>
<rect x="27.5" y="296.0" width="655.9" height="216.4" fill="none" stroke="#dcdcdc" stroke-width="0.8"/>
<line x1="150.5" x2="355.8" y1="316.2" y2="316.2" stroke="#262626" stroke-width="1.1"/>
<text x="253.2" y="309.0" font-size="9.55" text-anchor="middle" fill="#111" stroke="#111" stroke-width="0.15">t(305.49) = -2.94, p = 0.003*</text>
<line x1="150.5" x2="561.0" y1="486.5" y2="486.5" stroke="#262626" stroke-width="1.1"/>
<text x="355.8" y="480.0" font-size="9.55" text-anchor="middle" fill="#111" stroke="#111" stroke-width="0.15">t(276.88) = -0.66, p = 0.507</text>
<text x="27.5" y="287.4" font-size="13.45" font-weight="bold" fill="#000">B) Perceived Threat by Condition</text>
<text x="22.2" y="324.9" font-size="11.6" text-anchor="end" fill="#4d4d4d">6</text>
<text x="22.2" y="390.9" font-size="11.6" text-anchor="end" fill="#4d4d4d">4</text>
<text x="22.2" y="456.6" font-size="11.6" text-anchor="end" fill="#4d4d4d">2</text>
<text x="150.5" y="526.3" font-size="11.6" text-anchor="middle" fill="#4d4d4d">Control</text>
<text x="355.8" y="526.3" font-size="11.6" text-anchor="middle" fill="#4d4d4d">Mainstream</text>
<text x="561.0" y="526.3" font-size="11.6" text-anchor="middle" fill="#4d4d4d">Recategorization</text>
<text x="355.4" y="542.1" font-size="13.45" font-weight="bold" text-anchor="middle" fill="#000">Condition</text>
<text transform="translate(10.3 404.6) rotate(-90)" font-size="13.45" font-weight="bold" text-anchor="middle" fill="#000">Perceived Threat Score</text>
</g>
<g>
<line x1="27.5" x2="683.4" y1="616.90" y2="616.90" stroke="#f1f1f1" stroke-width="0.6"/>
<line x1="27.5" x2="683.4" y1="685.90" y2="685.90" stroke="#f1f1f1" stroke-width="0.6"/>
<line x1="27.5" x2="683.4" y1="755.00" y2="755.00" stroke="#f1f1f1" stroke-width="0.6"/>
<line x1="27.5" x2="683.4" y1="582.60" y2="582.60" stroke="#e9e9e9" stroke-width="0.9"/>
<line x1="27.5" x2="683.4" y1="651.30" y2="651.30" stroke="#e9e9e9" stroke-width="0.9"/>
<line x1="27.5" x2="683.4" y1="720.50" y2="720.50" stroke="#e9e9e9" stroke-width="0.9"/>
<line x1="27.5" x2="683.4" y1="789.60" y2="789.60" stroke="#e9e9e9" stroke-width="0.9"/>
<path d="M135.2 608.5C133.9 609.7 130.4 613.2 127.6 615.8C124.8 618.4 121.5 621.5 118.4 624.3C115.3 627.1 112.1 630.1 109.2 632.8C106.3 635.5 103.7 638.1 101.3 640.7C98.9 643.3 96.6 646.0 94.7 648.6C92.8 651.2 91.4 653.8 90.1 656.5C88.8 659.2 87.7 662.1 86.8 665.0C85.9 667.9 85.2 670.8 84.5 673.6C83.8 676.5 83.1 679.8 82.6 682.1C82.1 684.4 81.5 685.9 81.3 687.5C81.1 689.1 81.2 690.0 81.5 691.5C81.8 693.0 82.1 694.7 82.9 696.8C83.7 698.9 84.8 701.6 86.2 704.1C87.6 706.6 89.4 709.2 91.4 711.9C93.4 714.6 95.7 717.5 98.0 720.5C100.3 723.5 102.7 726.4 105.2 729.7C107.7 733.0 110.6 736.8 113.1 740.2C115.6 743.6 118.0 746.7 120.3 750.0C122.6 753.3 124.9 756.8 126.9 759.9C128.9 763.0 131.6 767.0 132.5 768.4L168.5 768.4C169.4 767.0 172.1 763.0 174.1 759.9C176.1 756.8 178.4 753.3 180.7 750.0C183.0 746.7 185.4 743.6 187.9 740.2C190.4 736.8 193.3 733.0 195.8 729.7C198.3 726.4 200.7 723.5 203.0 720.5C205.3 717.5 207.6 714.6 209.6 711.9C211.6 709.2 213.4 706.6 214.8 704.1C216.2 701.6 217.3 698.9 218.1 696.8C218.9 694.7 219.2 693.0 219.5 691.5C219.8 690.0 219.9 689.1 219.7 687.5C219.5 685.9 218.9 684.4 218.4 682.1C217.9 679.8 217.2 676.5 216.5 673.6C215.8 670.8 215.1 667.9 214.2 665.0C213.3 662.1 212.2 659.2 210.9 656.5C209.6 653.8 208.2 651.2 206.3 648.6C204.4 646.0 202.1 643.3 199.7 640.7C197.3 638.1 194.7 635.5 191.8 632.8C189.0 630.1 185.7 627.1 182.6 624.3C179.5 621.5 176.2 618.4 173.4 615.8C170.6 613.2 167.1 609.7 165.8 608.5Z" fill="#add8e6" fill-opacity="0.8" stroke="#303030" stroke-width="1.1" stroke-linejoin="round"/>
<path d="M346.9 583.3C347.0 584.6 347.1 588.5 347.3 591.1C347.5 593.7 348.0 596.6 348.2 599.0C348.4 601.4 348.5 603.4 348.3 605.6C348.1 607.8 347.8 610.0 346.9 612.2C346.0 614.4 344.7 616.5 342.9 618.7C341.2 620.9 339.1 623.0 336.4 625.3C333.7 627.6 330.0 630.1 326.5 632.5C323.0 634.9 319.0 637.4 315.3 639.8C311.6 642.2 307.8 644.6 304.2 647.0C300.6 649.4 297.0 651.8 293.7 654.2C290.4 656.6 286.9 659.4 284.5 661.4C282.1 663.4 280.5 664.8 279.0 666.5C277.5 668.2 275.9 670.0 275.3 671.8C274.7 673.6 275.1 675.1 275.5 677.1C275.9 679.1 276.9 681.4 277.9 683.7C278.8 686.0 280.1 688.5 281.2 690.9C282.3 693.3 283.4 695.8 284.5 698.1C285.6 700.4 286.4 702.5 287.7 704.7C289.0 706.9 290.4 709.0 292.3 711.2C294.2 713.4 296.4 715.5 298.9 717.8C301.4 720.1 304.5 722.6 307.4 725.0C310.4 727.4 313.8 730.0 316.6 732.3C319.4 734.6 321.8 736.7 324.3 739.0C326.8 741.3 330.1 744.0 331.7 746.2C333.3 748.4 333.5 750.4 334.2 752.4C334.9 754.4 335.2 756.3 335.8 758.5C336.4 760.7 337.1 763.3 338.0 765.7C338.9 768.1 339.8 770.4 340.9 772.8C342.0 775.2 343.9 779.0 344.5 780.2L367.1 780.2C367.7 779.0 369.6 775.2 370.7 772.8C371.8 770.4 372.8 768.1 373.6 765.7C374.5 763.3 375.2 760.7 375.8 758.5C376.4 756.3 376.7 754.4 377.4 752.4C378.1 750.4 378.3 748.4 379.9 746.2C381.6 744.0 384.8 741.3 387.3 739.0C389.8 736.7 392.2 734.6 395.0 732.3C397.8 730.0 401.2 727.4 404.2 725.0C407.1 722.6 410.2 720.1 412.7 717.8C415.2 715.5 417.4 713.4 419.3 711.2C421.2 709.0 422.6 706.9 423.9 704.7C425.2 702.5 426.0 700.4 427.1 698.1C428.2 695.8 429.3 693.3 430.4 690.9C431.5 688.5 432.8 686.0 433.7 683.7C434.7 681.4 435.7 679.1 436.1 677.1C436.5 675.1 436.9 673.6 436.3 671.8C435.7 670.0 434.1 668.2 432.6 666.5C431.1 664.8 429.6 663.4 427.1 661.4C424.7 659.4 421.2 656.6 417.9 654.2C414.6 651.8 411.0 649.4 407.4 647.0C403.8 644.6 400.0 642.2 396.3 639.8C392.6 637.4 388.6 634.9 385.1 632.5C381.6 630.1 377.9 627.6 375.2 625.3C372.5 623.0 370.4 620.9 368.7 618.7C366.9 616.5 365.6 614.4 364.7 612.2C363.8 610.0 363.5 607.8 363.3 605.6C363.1 603.4 363.2 601.4 363.4 599.0C363.6 596.6 364.1 593.7 364.3 591.1C364.5 588.5 364.6 584.6 364.7 583.3Z" fill="#add8e6" fill-opacity="0.8" stroke="#303030" stroke-width="1.1" stroke-linejoin="round"/>
<path d="M554.5 582.5C554.2 584.0 553.4 588.6 552.6 591.6C551.8 594.6 550.9 597.5 549.7 600.4C548.5 603.3 547.0 606.3 545.3 609.1C543.6 611.9 541.8 614.4 539.5 617.1C537.2 619.8 534.4 622.6 531.4 625.2C528.4 627.8 525.0 630.2 521.2 632.5C517.4 634.8 513.1 636.8 508.8 639.0C504.6 641.2 499.8 643.5 495.7 645.6C491.6 647.7 487.4 649.5 484.0 651.5C480.6 653.5 477.5 655.5 475.2 657.3C472.9 659.1 471.3 660.7 470.1 662.3C468.9 663.9 468.2 665.0 468.2 666.8C468.2 668.6 468.7 671.0 470.1 673.1C471.5 675.2 473.9 677.2 476.7 679.6C479.5 682.0 483.2 685.0 486.9 687.7C490.5 690.4 494.7 692.9 498.6 695.7C502.5 698.5 506.8 701.5 510.3 704.4C513.8 707.3 517.0 710.3 519.7 713.2C522.4 716.1 524.3 719.1 526.3 722.0C528.2 724.9 529.7 727.8 531.4 730.7C533.1 733.6 535.0 736.8 536.5 739.5C538.0 742.2 539.5 744.7 540.6 746.9C541.8 749.1 542.3 750.3 543.4 752.9C544.5 755.5 545.9 759.3 547.0 762.6C548.1 765.9 549.1 769.9 550.0 772.8C550.9 775.7 552.0 779.0 552.4 780.2L569.6 780.2C570.0 779.0 571.1 775.7 572.0 772.8C572.9 769.9 573.9 765.9 575.0 762.6C576.1 759.3 577.5 755.5 578.6 752.9C579.7 750.3 580.2 749.1 581.4 746.9C582.5 744.7 584.0 742.2 585.5 739.5C587.0 736.8 588.9 733.6 590.6 730.7C592.3 727.8 593.8 724.9 595.7 722.0C597.7 719.1 599.6 716.1 602.3 713.2C605.0 710.3 608.2 707.3 611.7 704.4C615.2 701.5 619.5 698.5 623.4 695.7C627.3 692.9 631.5 690.4 635.1 687.7C638.8 685.0 642.5 682.0 645.3 679.6C648.1 677.2 650.5 675.2 651.9 673.1C653.3 671.0 653.8 668.6 653.8 666.8C653.8 665.0 653.1 663.9 651.9 662.3C650.7 660.7 649.1 659.1 646.8 657.3C644.5 655.5 641.4 653.5 638.0 651.5C634.6 649.5 630.4 647.7 626.3 645.6C622.2 643.5 617.5 641.2 613.2 639.0C609.0 636.8 604.6 634.8 600.8 632.5C597.0 630.2 593.6 627.8 590.6 625.2C587.6 622.6 584.8 619.8 582.5 617.1C580.2 614.4 578.4 611.9 576.7 609.1C575.0 606.3 573.5 603.3 572.3 600.4C571.1 597.5 570.2 594.6 569.4 591.6C568.6 588.6 567.8 584.0 567.5 582.5Z" fill="#add8e6" fill-opacity="0.8" stroke="#303030" stroke-width="1.1" stroke-linejoin="round"/>
<circle cx="141.6" cy="608.6" r="2" fill="#7f7f7f" fill-opacity="0.17"/>
<circle cx="147.6" cy="622.0" r="2" fill="#7f7f7f" fill-opacity="0.17"/>
<circle cx="166.1" cy="622.9" r="2" fill="#7f7f7f" fill-opacity="0.17"/>
<circle cx="133.5" cy="628.9" r="2" fill="#7f7f7f" fill-opacity="0.17"/>
<circle cx="129.9" cy="637.3" r="2" fill="#7f7f7f" fill-opacity="0.17"/>
<circle cx="164.6" cy="636.1" r="2" fill="#7f7f7f" fill-opacity="0.17"/>
<circle cx="141.3" cy="640.9" r="2" fill="#7f7f7f" fill-opacity="0.17"/>
<circle cx="150.0" cy="640.0" r="2" fill="#7f7f7f" fill-opacity="0.17"/>
<circle cx="134.7" cy="648.7" r="2" fill="#7f7f7f" fill-opacity="0.17"/>
<circle cx="159.8" cy="650.8" r="2" fill="#7f7f7f" fill-opacity="0.17"/>
<circle cx="164.9" cy="652.6" r="2" fill="#7f7f7f" fill-opacity="0.17"/>
<circle cx="137.1" cy="654.4" r="2" fill="#7f7f7f" fill-opacity="0.17"/>
<circle cx="156.3" cy="658.8" r="2" fill="#7f7f7f" fill-opacity="0.17"/>
<circle cx="159.8" cy="661.2" r="2" fill="#7f7f7f" fill-opacity="0.17"/>
<circle cx="161.3" cy="662.7" r="2" fill="#7f7f7f" fill-opacity="0.17"/>
<circle cx="168.2" cy="663.9" r="2" fill="#7f7f7f" fill-opacity="0.17"/>
<circle cx="143.7" cy="673.8" r="2" fill="#7f7f7f" fill-opacity="0.17"/>
<circle cx="135.9" cy="675.3" r="2" fill="#7f7f7f" fill-opacity="0.17"/>
<circle cx="160.4" cy="679.5" r="2" fill="#7f7f7f" fill-opacity="0.17"/>
<circle cx="170.0" cy="678.9" r="2" fill="#7f7f7f" fill-opacity="0.17"/>
<circle cx="135.0" cy="690.6" r="2" fill="#7f7f7f" fill-opacity="0.17"/>
<circle cx="161.9" cy="690.9" r="2" fill="#7f7f7f" fill-opacity="0.17"/>
<circle cx="136.5" cy="692.7" r="2" fill="#7f7f7f" fill-opacity="0.17"/>
<circle cx="146.1" cy="696.0" r="2" fill="#7f7f7f" fill-opacity="0.17"/>
<circle cx="150.9" cy="695.1" r="2" fill="#7f7f7f" fill-opacity="0.17"/>
<circle cx="129.9" cy="702.2" r="2" fill="#7f7f7f" fill-opacity="0.17"/>
<circle cx="143.1" cy="705.5" r="2" fill="#7f7f7f" fill-opacity="0.17"/>
<circle cx="167.3" cy="708.8" r="2" fill="#7f7f7f" fill-opacity="0.17"/>
<circle cx="165.2" cy="710.6" r="2" fill="#7f7f7f" fill-opacity="0.17"/>
<circle cx="156.0" cy="711.8" r="2" fill="#7f7f7f" fill-opacity="0.17"/>
<circle cx="167.6" cy="716.3" r="2" fill="#7f7f7f" fill-opacity="0.17"/>
<circle cx="135.6" cy="716.9" r="2" fill="#7f7f7f" fill-opacity="0.17"/>
<circle cx="141.0" cy="717.8" r="2" fill="#7f7f7f" fill-opacity="0.17"/>
<circle cx="129.9" cy="725.3" r="2" fill="#7f7f7f" fill-opacity="0.17"/>
<circle cx="136.2" cy="726.8" r="2" fill="#7f7f7f" fill-opacity="0.17"/>
<circle cx="170.0" cy="729.5" r="2" fill="#7f7f7f" fill-opacity="0.17"/>
<circle cx="129.9" cy="734.9" r="2" fill="#7f7f7f" fill-opacity="0.17"/>
<circle cx="140.4" cy="737.3" r="2" fill="#7f7f7f" fill-opacity="0.17"/>
<circle cx="137.1" cy="740.9" r="2" fill="#7f7f7f" fill-opacity="0.17"/>
<circle cx="160.4" cy="741.8" r="2" fill="#7f7f7f" fill-opacity="0.17"/>
<circle cx="134.1" cy="756.7" r="2" fill="#7f7f7f" fill-opacity="0.17"/>
<circle cx="158.7" cy="755.8" r="2" fill="#7f7f7f" fill-opacity="0.17"/>
<circle cx="140.1" cy="768.7" r="2" fill="#7f7f7f" fill-opacity="0.17"/>
<circle cx="149.4" cy="767.2" r="2" fill="#7f7f7f" fill-opacity="0.17"/>
<circle cx="336.1" cy="583.2" r="2" fill="#7f7f7f" fill-opacity="0.17"/>
<circle cx="339.1" cy="589.5" r="2" fill="#7f7f7f" fill-opacity="0.17"/>
<circle cx="361.3" cy="625.1" r="2" fill="#7f7f7f" fill-opacity="0.17"/>
<circle cx="339.1" cy="629.9" r="2" fill="#7f7f7f" fill-opacity="0.17"/>
<circle cx="363.9" cy="643.9" r="2" fill="#7f7f7f" fill-opacity="0.17"/>
<circle cx="372.0" cy="643.6" r="2" fill="#7f7f7f" fill-opacity="0.17"/>
<circle cx="346.0" cy="649.3" r="2" fill="#7f7f7f" fill-opacity="0.17"/>
<circle cx="341.8" cy="651.1" r="2" fill="#7f7f7f" fill-opacity="0.17"/>
<circle cx="343.6" cy="650.8" r="2" fill="#7f7f7f" fill-opacity="0.17"/>
<circle cx="359.8" cy="650.2" r="2" fill="#7f7f7f" fill-opacity="0.17"/>
<circle cx="362.2" cy="658.3" r="2" fill="#7f7f7f" fill-opacity="0.17"/>
<circle cx="370.2" cy="664.0" r="2" fill="#7f7f7f" fill-opacity="0.17"/>
<circle cx="354.7" cy="665.2" r="2" fill="#7f7f7f" fill-opacity="0.17"/>
<circle cx="352.9" cy="666.1" r="2" fill="#7f7f7f" fill-opacity="0.17"/>
<circle cx="360.1" cy="667.6" r="2" fill="#7f7f7f" fill-opacity="0.17"/>
<circle cx="335.2" cy="668.8" r="2" fill="#7f7f7f" fill-opacity="0.17"/>
<circle cx="338.2" cy="670.9" r="2" fill="#7f7f7f" fill-opacity="0.17"/>
<circle cx="355.3" cy="670.6" r="2" fill="#7f7f7f" fill-opacity="0.17"/>
<circle cx="371.7" cy="673.0" r="2" fill="#7f7f7f" fill-opacity="0.17"/>
<circle cx="336.4" cy="676.3" r="2" fill="#7f7f7f" fill-opacity="0.17"/>
<circle cx="368.7" cy="682.5" r="2" fill="#7f7f7f" fill-opacity="0.17"/>
<circle cx="340.3" cy="684.6" r="2" fill="#7f7f7f" fill-opacity="0.17"/>
<circle cx="365.7" cy="684.3" r="2" fill="#7f7f7f" fill-opacity="0.17"/>
<circle cx="352.6" cy="692.1" r="2" fill="#7f7f7f" fill-opacity="0.17"/>
<circle cx="339.7" cy="697.8" r="2" fill="#7f7f7f" fill-opacity="0.17"/>
<circle cx="338.8" cy="700.8" r="2" fill="#7f7f7f" fill-opacity="0.17"/>
<circle cx="361.3" cy="700.8" r="2" fill="#7f7f7f" fill-opacity="0.17"/>
<circle cx="372.9" cy="701.7" r="2" fill="#7f7f7f" fill-opacity="0.17"/>
<circle cx="352.3" cy="706.8" r="2" fill="#7f7f7f" fill-opacity="0.17"/>
<circle cx="358.0" cy="706.5" r="2" fill="#7f7f7f" fill-opacity="0.17"/>
<circle cx="353.8" cy="708.9" r="2" fill="#7f7f7f" fill-opacity="0.17"/>
<circle cx="366.9" cy="714.3" r="2" fill="#7f7f7f" fill-opacity="0.17"/>
<circle cx="358.6" cy="716.4" r="2" fill="#7f7f7f" fill-opacity="0.17"/>
<circle cx="336.4" cy="718.8" r="2" fill="#7f7f7f" fill-opacity="0.17"/>
<circle cx="374.1" cy="721.2" r="2" fill="#7f7f7f" fill-opacity="0.17"/>
<circle cx="349.0" cy="722.9" r="2" fill="#7f7f7f" fill-opacity="0.17"/>
<circle cx="354.4" cy="724.7" r="2" fill="#7f7f7f" fill-opacity="0.17"/>
<circle cx="372.9" cy="728.3" r="2" fill="#7f7f7f" fill-opacity="0.17"/>
<circle cx="338.8" cy="761.9" r="2" fill="#7f7f7f" fill-opacity="0.17"/>
<circle cx="350.2" cy="768.1" r="2" fill="#7f7f7f" fill-opacity="0.17"/>
<circle cx="365.1" cy="780.4" r="2" fill="#7f7f7f" fill-opacity="0.17"/>
<circle cx="545.7" cy="582.8" r="2" fill="#7f7f7f" fill-opacity="0.17"/>
<circle cx="555.9" cy="607.1" r="2" fill="#7f7f7f" fill-opacity="0.17"/>
<circle cx="559.9" cy="612.7" r="2" fill="#7f7f7f" fill-opacity="0.17"/>
<circle cx="562.2" cy="626.8" r="2" fill="#7f7f7f" fill-opacity="0.17"/>
<circle cx="548.4" cy="628.1" r="2" fill="#7f7f7f" fill-opacity="0.17"/>
<circle cx="563.5" cy="634.1" r="2" fill="#7f7f7f" fill-opacity="0.17"/>
<circle cx="575.3" cy="641.9" r="2" fill="#7f7f7f" fill-opacity="0.17"/>
<circle cx="562.2" cy="647.2" r="2" fill="#7f7f7f" fill-opacity="0.17"/>
<circle cx="549.0" cy="648.8" r="2" fill="#7f7f7f" fill-opacity="0.17"/>
<circle cx="566.8" cy="650.2" r="2" fill="#7f7f7f" fill-opacity="0.17"/>
<circle cx="558.6" cy="650.8" r="2" fill="#7f7f7f" fill-opacity="0.17"/>
<circle cx="556.9" cy="655.4" r="2" fill="#7f7f7f" fill-opacity="0.17"/>
<circle cx="560.2" cy="657.4" r="2" fill="#7f7f7f" fill-opacity="0.17"/>
<circle cx="540.8" cy="658.7" r="2" fill="#7f7f7f" fill-opacity="0.17"/>
<circle cx="566.4" cy="659.4" r="2" fill="#7f7f7f" fill-opacity="0.17"/>
<circle cx="580.9" cy="659.7" r="2" fill="#7f7f7f" fill-opacity="0.17"/>
<circle cx="570.1" cy="662.3" r="2" fill="#7f7f7f" fill-opacity="0.17"/>
<circle cx="579.3" cy="665.3" r="2" fill="#7f7f7f" fill-opacity="0.17"/>
<circle cx="555.3" cy="665.9" r="2" fill="#7f7f7f" fill-opacity="0.17"/>
<circle cx="567.8" cy="665.9" r="2" fill="#7f7f7f" fill-opacity="0.17"/>
<circle cx="547.1" cy="669.9" r="2" fill="#7f7f7f" fill-opacity="0.17"/>
<circle cx="541.1" cy="671.8" r="2" fill="#7f7f7f" fill-opacity="0.17"/>
<circle cx="579.6" cy="679.1" r="2" fill="#7f7f7f" fill-opacity="0.17"/>
<circle cx="580.6" cy="677.4" r="2" fill="#7f7f7f" fill-opacity="0.17"/>
<circle cx="575.0" cy="675.8" r="2" fill="#7f7f7f" fill-opacity="0.17"/>
<circle cx="554.6" cy="680.1" r="2" fill="#7f7f7f" fill-opacity="0.17"/>
<circle cx="543.8" cy="684.3" r="2" fill="#7f7f7f" fill-opacity="0.17"/>
<circle cx="562.2" cy="684.7" r="2" fill="#7f7f7f" fill-opacity="0.17"/>
<circle cx="547.7" cy="690.6" r="2" fill="#7f7f7f" fill-opacity="0.17"/>
<circle cx="549.4" cy="693.5" r="2" fill="#7f7f7f" fill-opacity="0.17"/>
<circle cx="551.7" cy="697.5" r="2" fill="#7f7f7f" fill-opacity="0.17"/>
<circle cx="562.2" cy="698.4" r="2" fill="#7f7f7f" fill-opacity="0.17"/>
<circle cx="543.1" cy="701.7" r="2" fill="#7f7f7f" fill-opacity="0.17"/>
<circle cx="577.3" cy="701.7" r="2" fill="#7f7f7f" fill-opacity="0.17"/>
<circle cx="575.6" cy="704.7" r="2" fill="#7f7f7f" fill-opacity="0.17"/>
<circle cx="570.4" cy="715.9" r="2" fill="#7f7f7f" fill-opacity="0.17"/>
<circle cx="579.9" cy="718.8" r="2" fill="#7f7f7f" fill-opacity="0.17"/>
<circle cx="571.0" cy="722.1" r="2" fill="#7f7f7f" fill-opacity="0.17"/>
<circle cx="547.7" cy="725.1" r="2" fill="#7f7f7f" fill-opacity="0.17"/>
<circle cx="567.8" cy="732.9" r="2" fill="#7f7f7f" fill-opacity="0.17"/>
<circle cx="545.7" cy="741.2" r="2" fill="#7f7f7f" fill-opacity="0.17"/>
<circle cx="564.8" cy="740.8" r="2" fill="#7f7f7f" fill-opacity="0.17"/>
<circle cx="555.6" cy="756.6" r="2" fill="#7f7f7f" fill-opacity="0.17"/>
<circle cx="572.0" cy="763.8" r="2" fill="#7f7f7f" fill-opacity="0.17"/>
<circle cx="560.9" cy="780.2" r="2" fill="#7f7f7f" fill-opacity="0.17"/>
<path d="M140.2 682.8H160.8M140.2 693.9H160.8M150.5 682.8V693.9" stroke="#4a78dc" stroke-width="1.8" fill="none"/>
<circle cx="150.5" cy="688.3" r="3.5" fill="#4a78dc"/>
<path d="M345.5 678.0H366.1M345.5 689.3H366.1M355.8 678.0V689.3" stroke="#4a78dc" stroke-width="1.8" fill="none"/>
<circle cx="355.8" cy="683.9" r="3.5" fill="#4a78dc"/>
<path d="M550.7 670.9H571.3M550.7 682.0H571.3M561.0 670.9V682.0" stroke="#4a78dc" stroke-width="1.8" fill="none"/>
<circle cx="561.0" cy="676.4" r="3.5" fill="#4a78dc"/>
<rect x="27.5" y="573.3" width="655.9" height="216.5" fill="none" stroke="#dcdcdc" stroke-width="0.8"/>
<line x1="150.5" x2="355.8" y1="732.6" y2="732.6" stroke="#262626" stroke-width="1.1"/>
<text x="253.2" y="724.8" font-size="9.55" text-anchor="middle" fill="#111" stroke="#111" stroke-width="0.15">t(288.05) = 0.78, p = 0.438</text>
<line x1="150.5" x2="561.0" y1="755.4" y2="755.4" stroke="#262626" stroke-width="1.1"/>
<text x="355.8" y="747.9" font-size="9.55" text-anchor="middle" fill="#111" stroke="#111" stroke-width="0.15">t(233.30) = 1.66, p = 0.098</text>
<text x="27.5" y="564.9" font-size="13.45" font-weight="bold" fill="#000">C) Support for Violence by Condition</text>
<text x="22.2" y="586.6" font-size="11.6" text-anchor="end" fill="#4d4d4d">3</text>
<text x="22.2" y="655.2" font-size="11.6" text-anchor="end" fill="#4d4d4d">2</text>
<text x="22.2" y="724.5" font-size="11.6" text-anchor="end" fill="#4d4d4d">1</text>
<text x="22.2" y="793.6" font-size="11.6" text-anchor="end" fill="#4d4d4d">0</text>
<text x="150.5" y="803.5" font-size="11.6" text-anchor="middle" fill="#4d4d4d">Control</text>
<text x="355.8" y="803.5" font-size="11.6" text-anchor="middle" fill="#4d4d4d">Mainstream</text>
<text x="561.0" y="803.5" font-size="11.6" text-anchor="middle" fill="#4d4d4d">Recategorization</text>
<text x="355.4" y="818.7" font-size="13.45" font-weight="bold" text-anchor="middle" fill="#000">Condition</text>
<text transform="translate(10.3 681.2) rotate(-90)" font-size="13.45" font-weight="bold" text-anchor="middle" fill="#000">Support for Violence Score</text>
</g>
</svg>
</body></html>
